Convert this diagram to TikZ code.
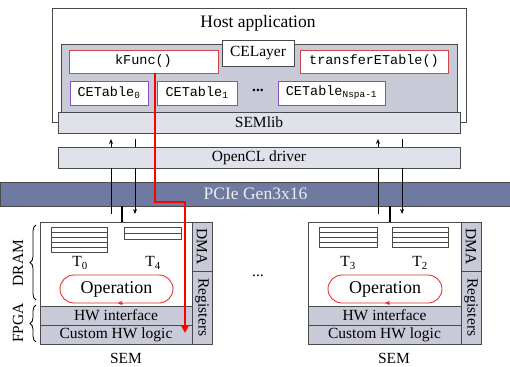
\documentclass[tikz,border=0pt]{standalone}
\usepackage{fontspec}
\setmainfont{Liberation Serif}
\setmonofont{Liberation Mono}
\usetikzlibrary{arrows.meta,decorations.pathreplacing}
\definecolor{bordergray}{HTML}{4A4A4A}
\definecolor{layerfill}{HTML}{C8CAD8}
\definecolor{libfill}{HTML}{E0E2EB}
\definecolor{pciefill}{HTML}{6F7AA0}
\definecolor{pcietext}{HTML}{ECEDF3}
\definecolor{funcred}{HTML}{D0454A}
\definecolor{tabpurple}{HTML}{8A4CC0}
\definecolor{opred}{HTML}{E83030}
\newcommand\fsN{\fontsize{15.5}{17}\selectfont}
\newcommand\fsL{\fontsize{17.5}{19}\selectfont}
\newcommand\fsO{\fontsize{18}{20}\selectfont}
\newcommand\fsM{\fontsize{13.5}{15}\selectfont\ttfamily}
\begin{document}
\begin{tikzpicture}[x=1pt,y=-1pt,
  box/.style={draw=bordergray, line width=0.9pt, inner sep=0pt, outer sep=0pt, anchor=center},
  greybox/.style={box, fill=layerfill},
  libbox/.style={box, fill=libfill, font=\fsN},
  funcbox/.style={box, draw=funcred, fill=white, font=\fsM},
  tabbox/.style={box, draw=tabpurple, fill=white, font=\fsM},
  stackline/.style={draw=bordergray, line width=0.8pt},
  link/.style={draw=black, line width=0.9pt},
  linkarrow/.style={link, -{Stealth[length=5pt,width=4pt]}},
  thicklink/.style={draw=black, line width=1.6pt},
  oploop/.style={box, draw=opred, fill=white, rounded corners=14pt, font=\fsO},
  redpath/.style={draw=red, line width=2.6pt, line join=miter, -{Triangle[length=8pt,width=8pt]}},
  bracestyle/.style={draw=black, line width=0.8pt, decorate, decoration={brace, amplitude=6pt}},
  plain/.style={inner sep=0pt, font=\fsN}
]
\useasboundingbox (0,0) rectangle (510,366);

% Host application
\node[box, fill=white, minimum width=414pt, minimum height=114pt] (host) at (259,65) {};
\node[plain, font=\fsL] (hosttitle) at (258,23) {Host application};
\node[greybox, minimum width=396pt, minimum height=68pt] (celayerbg) at (259,78) {};
\node[box, fill=white, minimum width=72pt, minimum height=26pt, font=\fsN] (celayer) at (258,53) {CELayer};
\node[funcbox, minimum width=149pt, minimum height=23pt] (kfunc) at (143.5,61.5) {kFunc()};
\node[funcbox, minimum width=148pt, minimum height=23pt] (transfer) at (374,61.5) {transferETable()};
\node[tabbox, minimum width=78pt, minimum height=24pt] (cet0) at (109,93) {CETable\textsubscript{0}};
\node[tabbox, minimum width=80pt, minimum height=24pt] (cet1) at (197,93) {CETable\textsubscript{1}};
\node[plain] (cetdots) at (258,90) {\textbf{...}};
\node[tabbox, minimum width=107pt, minimum height=24pt] (cetn) at (331.5,93) {CETable\textsubscript{\ttfamily Nspa-1}};

% SEMlib, OpenCL, PCIe
\node[libbox, minimum width=402pt, minimum height=21pt] (semlib) at (259,122.5) {SEMlib};
\node[libbox, minimum width=402pt, minimum height=21pt] (opencl) at (259,157.5) {OpenCL driver};
\node[box, fill=pciefill, text=pcietext, minimum width=511pt, minimum height=24pt, font=\fsL] (pcie) at (255.5,194) {PCIe Gen3x16};

% x positions of connectors
\coordinate (xLu) at (111,0);
\coordinate (xLd) at (135,0);
\coordinate (xLt) at (122,0);
\coordinate (xRu) at (378,0);
\coordinate (xRd) at (402,0);
\coordinate (xRt) at (390,0);

% SEM left
\node[box, fill=white, minimum width=152pt, minimum height=122pt] (semL) at (116,283) {};
\node[greybox, rotate=-90, minimum width=49pt, minimum height=20pt, font=\fsN] (dmaL) at (202,246.5) {DMA};
\node[greybox, rotate=-90, minimum width=73pt, minimum height=20pt, font=\fsN] (regL) at (202,307.5) {Registers};
\node[greybox, minimum width=152pt, minimum height=19pt, font=\fsN] (hwL) at (116,315.5) {HW interface};
\node[greybox, minimum width=152pt, minimum height=19pt, font=\fsN] (custL) at (116,334.5) {Custom HW logic};
\node[box, fill=white, minimum width=56pt, minimum height=25pt] (t0tab) at (79,239.5) {};
\foreach \yy in {232,237,242,247} \draw[stackline] (t0tab.west |- 0,\yy) -- (t0tab.east |- 0,\yy);
\node[box, fill=white, minimum width=57pt, minimum height=12pt] (t4tab) at (152.5,233) {};
\draw[stackline] (t4tab.west) -- (t4tab.east);
\node[plain] (t0lab) at (80,263) {T\textsubscript{0}};
\node[plain] (t4lab) at (153,263) {T\textsubscript{4}};
\node[oploop, minimum width=113pt, minimum height=28pt] (opL) at (116.5,289) {Operation};
\draw[draw=opred, line width=0.9pt, -{Stealth[length=5pt,width=4.5pt]}] ([xshift=6pt]opL.south) -- ([xshift=1pt]opL.south);
\node[plain] (semLlab) at (126,358) {SEM};

% SEM right
\node[box, fill=white, minimum width=153pt, minimum height=122pt] (semR) at (384.5,283) {};
\node[greybox, rotate=-90, minimum width=49pt, minimum height=20pt, font=\fsN] (dmaR) at (471,246.5) {DMA};
\node[greybox, rotate=-90, minimum width=73pt, minimum height=20pt, font=\fsN] (regR) at (471,307.5) {Registers};
\node[greybox, minimum width=153pt, minimum height=19pt, font=\fsN] (hwR) at (384.5,315.5) {HW interface};
\node[greybox, minimum width=153pt, minimum height=19pt, font=\fsN] (custR) at (384.5,334.5) {Custom HW logic};
\node[box, fill=white, minimum width=58pt, minimum height=20pt] (t3tab) at (348,237) {};
\foreach \yy in {232,237,242} \draw[stackline] (t3tab.west |- 0,\yy) -- (t3tab.east |- 0,\yy);
\node[box, fill=white, minimum width=56pt, minimum height=20pt] (t2tab) at (420,237) {};
\foreach \yy in {232,237,242} \draw[stackline] (t2tab.west |- 0,\yy) -- (t2tab.east |- 0,\yy);
\node[plain] (t3lab) at (348,263) {T\textsubscript{3}};
\node[plain] (t2lab) at (420,263) {T\textsubscript{2}};
\node[oploop, minimum width=114pt, minimum height=28pt] (opR) at (385,289) {Operation};
\draw[draw=opred, line width=0.9pt, -{Stealth[length=5pt,width=4.5pt]}] ([xshift=5pt]opR.south) -- (opR.south);
\node[plain] (semRlab) at (394,358) {SEM};

\node[plain] (semdots) at (258,276) {...};

% braces and side labels
\coordinate (bDb) at (36,300);
\coordinate (bDt) at (36,225);
\coordinate (bFb) at (36,342);
\coordinate (bFt) at (36,305);
\draw[bracestyle] (bDb) -- (bDt);
\draw[bracestyle] (bFb) -- (bFt);
\node[plain, rotate=90] (dramlab) at (18,263) {DRAM};
\node[plain, rotate=90] (fpgalab) at (18,323) {FPGA};

% connectors between layers (left)
\draw[linkarrow] (opencl.north -| xLu) -- ++(0,-8);
\draw[link] (opencl.north -| xLd) -- ++(0,-8);
\draw[link] (opencl.south -| xLu) -- ++(0,46);
\draw[linkarrow] (opencl.south -| xLd) -- ++(0,46);
\draw[thicklink] (pcie.south -| xLt) -- (semL.north -| xLt);
% right
\draw[linkarrow] (opencl.north -| xRu) -- ++(0,-8);
\draw[link] (opencl.north -| xRd) -- ++(0,-8);
\draw[link] (opencl.south -| xRu) -- ++(0,46);
\draw[linkarrow] (opencl.south -| xRd) -- ++(0,46);
\draw[thicklink] (pcie.south -| xRt) -- (semR.north -| xRt);

% red call path
\coordinate (r1) at (155,202);
\coordinate (r2) at (185,202);
\coordinate (r3) at (185,333);
\draw[redpath] (kfunc.south -| r1) |- (r2) -- (r3);
\end{tikzpicture}
\end{document}
